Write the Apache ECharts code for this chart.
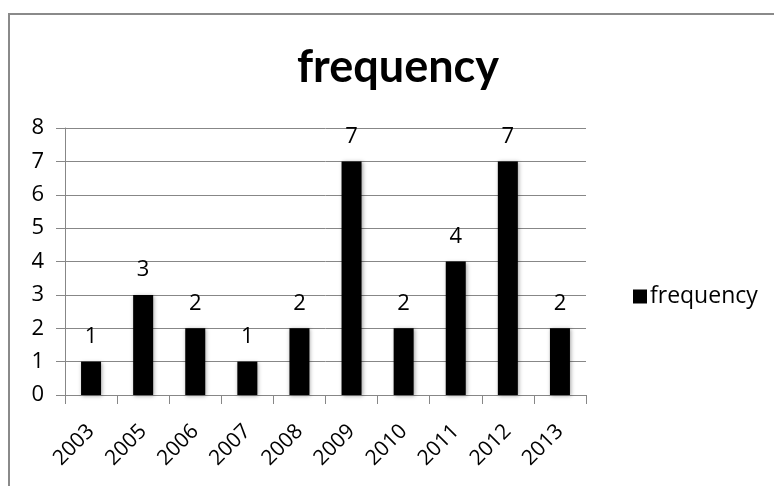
<!DOCTYPE html>
<html><head><meta charset="utf-8">
<script src="https://cdn.jsdelivr.net/npm/echarts@6/dist/echarts.min.js"></script>
<style>html,body{margin:0;padding:0;background:#fff}#c{width:774px;height:486px}</style>
</head><body><div id="c"></div>
<script>
var categories = ['2003','2005','2006','2007','2008','2009','2010','2011','2012','2013'];
var frequency = [1,3,2,1,2,7,2,4,7,2];
var yTicks = {min:0, max:8, interval:1};
var chart = echarts.init(document.getElementById('c'));
var FT = 'Lato, "Open Sans", sans-serif';
var F = '"Open Sans", Lato, sans-serif';
chart.setOption({
  animation:false,
  backgroundColor:'#fff',
  graphic:[{type:'rect', shape:{x:9,y:14,width:800,height:500}, style:{fill:'none',stroke:'#8a8a8a',lineWidth:2}, silent:true}],
  title:{text:'frequency', left:393, top:40, textAlign:'center',
    textStyle:{fontFamily:FT,fontWeight:'bold',fontSize:45,color:'#000'}},
  legend:{left:628, top:280, itemWidth:14, itemHeight:14, itemGap:8, icon:'rect',
    textStyle:{fontFamily:F,fontSize:23,color:'#000', padding:[0,0,0,-2]}, data:['frequency']},
  grid:{left:65, right:188, top:128, bottom:91},
  xAxis:{type:'category', data:categories,
    axisLine:{lineStyle:{color:'#878787',width:1}},
    axisTick:{show:true,length:9,lineStyle:{color:'#878787'}},
    axisLabel:{rotate:45, margin:33, fontFamily:F, fontSize:21, color:'#000'}},
  yAxis:{type:'value', min:yTicks.min, max:yTicks.max, interval:yTicks.interval,
    axisLine:{show:true,lineStyle:{color:'#878787'}},
    axisTick:{show:true,length:9,lineStyle:{color:'#878787'}},
    splitLine:{lineStyle:{color:'#878787'}},
    axisLabel:{margin:21, fontFamily:F, fontSize:22, color:'#000'}},
  series:[{name:'frequency', type:'bar', data:frequency, barWidth:20,
    itemStyle:{color:'#000', shadowColor:'rgba(0,0,0,0.35)', shadowBlur:4, shadowOffsetX:1, shadowOffsetY:1},
    label:{show:true, position:'top', distance:14, fontFamily:F, fontSize:22, color:'#000'}}]
});
</script></body></html>
